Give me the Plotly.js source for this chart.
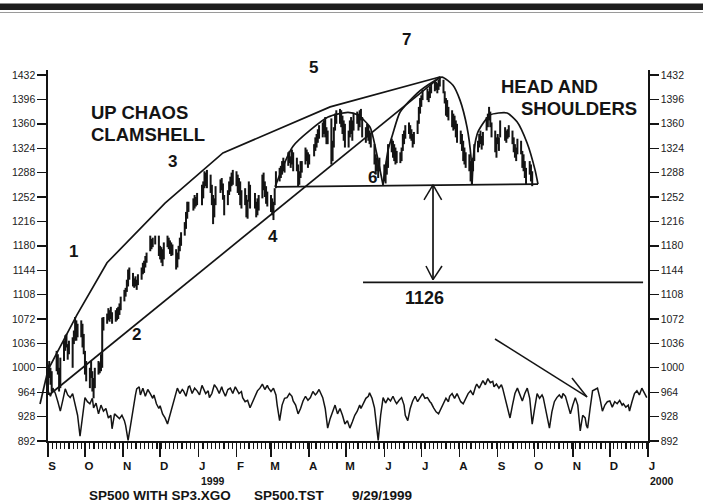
<!DOCTYPE html>
<html><head><meta charset="utf-8">
<script src="https://cdn.plot.ly/plotly-3.0.1.min.js"></script>
<style>html,body{margin:0;padding:0;background:#fff}#chart{width:703px;height:504px}</style>
</head><body><div id="chart"></div>
<script>
const FONT = 'Liberation Sans, Arial, Helvetica, sans-serif';
const INK = '#141414';

// ---- Daily bar highs / lows per month (one entry per weekday, null = holiday)
const hiSep98 = [1005,1010,1000,995,null,1025,1020,1000,1015,1040,1048,1050,1035,1040,1045,1055,1075,1070,1065,1070,1065,1050];
const loSep98 = [960,985,975,965,null,995,990,965,970,1010,1025,1030,1012,1020,1000,1035,1040,1040,1045,1045,1030,1020];
const hiOct98 = [1025,1010,1000,1010,995,985,1000,1010,1008,1020,1074,1075,1080,1088,1085,1090,1082,1085,1088,1090,1095,1105];
const loOct98 = [990,980,970,985,965,955,970,990,992,995,1000,1055,1065,1070,1068,1072,1065,1068,1070,1072,1078,1085];
const hiNov98 = [1115,1118,1130,1145,1148,1140,1132,1135,1130,1138,1148,1155,1158,1165,1170,1195,1190,1192,null,1195,1195];
const loNov98 = [1098,1105,1112,1120,1130,1120,1118,1120,1115,1122,1130,1138,1140,1148,1155,1172,1175,1178,null,1182,1165];
const hiDec98 = [1180,1178,1175,1185,1195,1192,1188,1185,1182,1175,1170,1180,1192,1200,1215,1230,1245,1245,null,1250,1255,1252,1258];
const loDec98 = [1160,1155,1150,1160,1178,1175,1168,1165,1166,1145,1148,1160,1172,1180,1195,1205,1220,1230,null,1232,1235,1238,1240];
const hiJan99 = [null,1270,1275,1290,1288,1292,1285,1270,1255,1250,1268,null,1278,1280,1272,1255,1262,1275,1282,1288,1292];
const loJan99 = [null,1240,1250,1265,1268,1265,1258,1240,1212,1222,1240,null,1258,1262,1248,1225,1240,1255,1260,1268,1270];
const hiFeb99 = [1290,1285,1280,1275,1262,1265,1255,1248,1275,1270,null,1258,1245,1250,1255,1285,1288,1275,1268,1260];
const loFeb99 = [1268,1258,1255,1240,1235,1240,1222,1220,1245,1235,null,1235,1222,1225,1232,1250,1262,1252,1242,1238];
const hiMar99 = [1255,1250,1245,1265,1290,1295,1298,1305,1310,1305,1318,1320,1312,1322,1318,1310,1300,1290,1305,1305,1325,1322,1318];
const loMar99 = [1230,1225,1218,1240,1265,1275,1280,1285,1290,1288,1298,1302,1295,1300,1290,1290,1268,1270,1280,1288,1300,1305,1295];
const hiApr99 = [1315,null,1330,1340,1345,1352,1358,1362,1365,1370,1355,1350,1368,1335,1355,1375,1380,1382,1380,1372,1365,1360];
const loApr99 = [1300,null,1312,1320,1325,1332,1338,1340,1345,1340,1330,1330,1300,1305,1325,1350,1360,1360,1355,1345,1335,1325];
const hiMay99 = [1350,1365,1370,1365,1375,1378,1375,1380,1382,1370,1355,1360,1358,1350,1345,1330,1315,1310,1300,1310,null];
const loMay99 = [1325,1340,1345,1335,1350,1360,1350,1355,1365,1340,1332,1340,1335,1330,1325,1300,1285,1290,1280,1290,null];
const hiJun99 = [1300,1298,1305,1330,1338,1335,1330,1325,1320,1318,1325,1345,1350,1358,1362,1358,1352,1345,1348,1365,1385,1398];
const loJun99 = [1275,1272,1285,1295,1318,1310,1305,1300,1302,1302,1305,1320,1330,1338,1345,1338,1335,1325,1330,1345,1360,1375];
const hiJul99 = [1402,1410,null,1412,1408,1415,1420,1425,1422,1420,1425,1430,1425,1408,1398,1395,1385,1380,1375,1372,1365,1360];
const loJul99 = [1385,1395,null,1395,1392,1398,1405,1408,1410,1405,1410,1415,1405,1390,1372,1370,1365,1355,1350,1352,1340,1332];
const hiAug99 = [1350,1345,1335,1325,1318,1315,1305,1300,1310,1330,1335,1345,1350,1342,1348,1370,1375,1385,1378,1362,1350,1340];
const loAug99 = [1330,1320,1305,1300,1295,1290,1275,1270,1290,1305,1318,1325,1330,1322,1328,1350,1355,1365,1355,1340,1318,1310];
const hiSep99 = [1345,1340,1365,null,1355,1350,1352,1358,1350,1340,1330,1325,1338,1335,1320,1315,1305,1295,1305,1300,1290];
const loSep99 = [1330,1320,1340,null,1335,1332,1338,1340,1330,1318,1310,1305,1315,1315,1295,1290,1280,1270,1285,1275,1268];

// ---- Oscillator (SP3.XGO): day offset from 1 Sep 1998, value on price scale
const oscDay = [0,2,4,6,8,10,12,14,16,18,20,22,24,26,28,30,32,34,36,37,39,41,43,45,47,49,51,52,54,56,58,60,62,63,65,67,69,71,72,74,75,77,79,81,83,85,86,88,90,91,93,95,97,99,101,103,105,107,109,110,112,114,115,117,119,121,123,125,126,128,130,131,133,135,137,139,141,142,144,146,148,150,152,153,155,157,158,160,162,164,166,168,170,172,174,176,178,179,181,183,185,186,188,190,192,194,196,198,199,201,203,205,207,209,211,213,215,217,218,220,222,223,225,227,229,231,233,235,237,239,241,243,245,247,249,251,253,254,256,258,260,261,263,265,266,268,270,272,274,276,278,280,282,283,285,287,289,290,292,294,296,298,300,302,304,306,308,310,311,313,315,317,319,321,323,325,326,328,330,332,334,335,337,339,341,343,345,347,348,350,352,353,355,357,359,361,362,364,366,368,369,371,373,375,377,379,381,383,385,387,389,391,393,395,397,399,401,402,404,406,407,409,411,413,415,417,418,420,422,424,426,428,430,432,434,436,437,438,440,442,444,446,448,450,452,454,456,458,460,462,464,466,467,469,471,472,474,476,478,480,482,484,486];
const oscVal = [966,958,970,962,950,936,952,969,960,956,962,947,930,899,930,956,950,947,955,941,948,932,945,936,940,926,930,910,932,928,925,930,922,915,893,915,941,960,969,972,960,970,958,968,962,955,960,947,940,944,932,926,917,930,941,955,970,962,968,966,958,972,973,962,970,966,960,974,970,962,966,956,962,975,970,962,972,966,958,968,970,962,972,969,962,965,956,950,952,941,950,958,966,970,976,968,974,970,965,970,960,945,922,945,955,956,962,958,951,945,932,940,951,958,952,956,965,960,962,968,960,956,940,911,925,936,945,932,940,930,917,922,911,920,930,936,945,940,947,955,958,963,955,941,925,893,930,956,948,955,951,958,950,947,952,956,945,930,922,940,951,958,950,956,962,955,956,950,948,941,935,932,940,947,955,950,958,962,955,962,955,950,947,955,962,966,960,972,976,970,978,981,975,984,978,980,972,976,970,975,970,955,940,926,945,962,970,960,951,962,970,955,917,940,962,955,960,956,940,920,911,935,950,956,960,955,962,958,945,932,945,956,945,907,930,926,915,911,940,966,968,970,955,936,945,950,951,942,950,947,952,945,947,942,945,936,950,962,966,960,970,962,956];

// ---- Axis ticks
const monthLetters = ['S','O','N','D','J','F','M','A','M','J','J','A','S','O','N','D','J'];
const priceTicks = [892,928,964,1000,1036,1072,1108,1144,1180,1216,1252,1288,1324,1360,1396,1432];

// ---- Hand-drawn pattern lines as [day, price]
const clamTop = [[0,997],[23.5,1078],[47.9,1155],[95,1243],[142,1317],[229,1385],[318,1429]];
const clamBottom = [[1.6,961],[318.2,1429]];
const neckline = [[184.3,1267],[397.7,1271]];
const leftDome = [[184.3,1267],[198.9,1327],[227.3,1370],[243.5,1377],[251.6,1373],[261.4,1355],[266.2,1321],[271.9,1270]];
const headDome = [[271.9,1270],[276,1321],[280,1346],[285.7,1377],[299.5,1405],[312.5,1422],[319.8,1429],[328.7,1417],[334.4,1395],[340.1,1355],[343.3,1311],[344.2,1270]];
const rightDome = [[344.2,1270],[345.8,1321],[349,1348],[358.8,1373],[372.6,1376],[380.7,1363],[388.8,1332],[395.3,1292],[397.7,1271]];
const targetLevel = 1126;

// ---------------------------------------------------------------
const T0 = Date.UTC(1998, 8, 1);
const DAY = 864e5;
const monthData = [
  [1998,8,hiSep98,loSep98],[1998,9,hiOct98,loOct98],[1998,10,hiNov98,loNov98],[1998,11,hiDec98,loDec98],
  [1999,0,hiJan99,loJan99],[1999,1,hiFeb99,loFeb99],[1999,2,hiMar99,loMar99],[1999,3,hiApr99,loApr99],
  [1999,4,hiMay99,loMay99],[1999,5,hiJun99,loJun99],[1999,6,hiJul99,loJul99],[1999,7,hiAug99,loAug99],
  [1999,8,hiSep99,loSep99]
];
const bx = [], by = [];
monthData.forEach(([yr, mo, hi, lo]) => {
  let k = 0;
  for (let dd = 1; dd <= 31; dd++) {
    const t = Date.UTC(yr, mo, dd);
    const dt = new Date(t);
    if (dt.getUTCMonth() !== mo) break;
    const wd = dt.getUTCDay();
    if (wd === 0 || wd === 6) continue;
    if (k >= hi.length) break;
    if (hi[k] != null) {
      const d = (t - T0) / DAY;
      bx.push(d, d, null); by.push(lo[k], hi[k], null);
    }
    k++;
  }
});
const monthTickDays = monthLetters.map((_, i) => (Date.UTC(1998, 8 + i, 1) - T0) / DAY);

function lineTrace(pts, shape, w) {
  return {x: pts.map(p => p[0]), y: pts.map(p => p[1]), mode: 'lines', type: 'scatter',
    line: {color: INK, width: w || 1.7, shape: shape || 'linear', smoothing: 0.6}, hoverinfo: 'skip'};
}

const traces = [
  {x: bx, y: by, mode: 'lines', type: 'scatter', line: {color: INK, width: 2}, hoverinfo: 'skip', connectgaps: false},
  {x: oscDay, y: oscVal, mode: 'lines', type: 'scatter', line: {color: INK, width: 1.5}, hoverinfo: 'skip'},
  lineTrace(clamTop),
  lineTrace(clamBottom),
  lineTrace(neckline),
  lineTrace(leftDome, 'spline'),
  lineTrace(headDome, 'spline'),
  lineTrace(rightDome, 'spline'),
  {x: [0], y: [892], yaxis: 'y2', mode: 'markers', marker: {opacity: 0}, hoverinfo: 'skip'}
];

const L = (x0, y0, x1, y1, w) => ({type: 'line', xref: 'x', yref: 'y', x0, y0, x1, y1, line: {color: INK, width: w || 1.7}});
const shapes = [
  {type: 'rect', xref: 'paper', yref: 'paper', x0: -0.09, x1: 1.1, y0: 1.162, y1: 1.179, fillcolor: '#1e1e1e', line: {width: 0}},
  {type: 'line', xref: 'paper', yref: 'paper', x0: -0.09, x1: 1.1, y0: 1.155, y1: 1.155, line: {color: '#9a9a9a', width: 1.2}},
  {type: 'line', xref: 'paper', yref: 'paper', x0: -0.0133, y0: 0.0997, x1: 0, y1: 0.1914, line: {color: INK, width: 1.7}},
  L(255.7, targetLevel, 483, targetLevel, 1.7),
  L(312.5, 1270, 312.5, 1130, 1.7),
  L(312.5, 1270, 305.2, 1247.6, 1.5), L(312.5, 1270, 319.5, 1247.6, 1.5),
  L(312.5, 1130, 306.8, 1150.2, 1.5), L(312.5, 1130, 319.8, 1150.2, 1.5),
  L(362.8, 1042.5, 437.5, 957, 1.5),
  L(425.3, 985, 437.5, 957, 1.5)
];

const A = (text, x, y, size, xanchor) => ({text, x, y, xref: 'paper', yref: 'paper', showarrow: false,
  xanchor: xanchor || 'center', yanchor: 'middle', font: {family: FONT, size, color: INK, weight: 'bold'}});
const annotations = [
  A('7', 0.598, 1.081, 17), A('5', 0.4417, 1.0054, 17),
  A('UP CHAOS', 0.0683, 0.8854, 18.5, 'left'), A('CLAMSHELL', 0.0683, 0.8261, 18.5, 'left'),
  A('HEAD AND', 0.7517, 0.9555, 18.5, 'left'), A('SHOULDERS', 0.785, 0.8949, 18.5, 'left'),
  A('1', 0.0417, 0.5121, 17), A('2', 0.1483, 0.2884, 17), A('3', 0.2067, 0.7534, 17),
  A('4', 0.375, 0.5499, 17), A('6', 0.54, 0.7089, 17),
  A('1126', 0.6283, 0.3854, 18),
  A('SP500 WITH SP3.XGO', 0.065, -0.148, 13.5, 'left'),
  A('SP500.TST', 0.34, -0.148, 13.5, 'left'),
  A('9/29/1999', 0.5033, -0.148, 13.5, 'left'),
  A('1999', 0.2517, -0.1078, 10.5, 'left'),
  A('2000', 1.0, -0.1078, 10.5, 'left')
];

const yax = {range: [892, 1439.4], showgrid: false, zeroline: false, showline: true, linecolor: INK, linewidth: 1.6,
  tickmode: 'array', tickvals: priceTicks, ticks: 'outside', ticklen: 9, tickwidth: 1.4, tickcolor: INK,
  tickfont: {family: FONT, size: 10.5, color: '#222'}, fixedrange: true};

const layout = {
  width: 703, height: 504, margin: {l: 48, r: 55, t: 70, b: 63},
  paper_bgcolor: '#fff', plot_bgcolor: '#fff', showlegend: false,
  font: {family: FONT, color: INK},
  xaxis: {range: [0, 487], showgrid: false, zeroline: false, showline: true, linecolor: INK, linewidth: 1.6,
    tickmode: 'array', tickvals: monthTickDays, ticktext: monthLetters, ticks: 'outside', ticklen: 14, tickwidth: 1.5,
    tickcolor: INK, ticklabelshift: 4, tickfont: {family: FONT, size: 11.5, color: INK, weight: 'bold'},
    minor: {ticks: 'outside', ticklen: 6, tickwidth: 1.2, tickcolor: INK, dtick: 3.4, tick0: 0, showgrid: false},
    fixedrange: true},
  yaxis: yax,
  yaxis2: Object.assign({}, yax, {overlaying: 'y', side: 'right'}),
  shapes, annotations
};

Plotly.newPlot('chart', traces, layout, {staticPlot: true, displayModeBar: false});
</script>
</body></html>
